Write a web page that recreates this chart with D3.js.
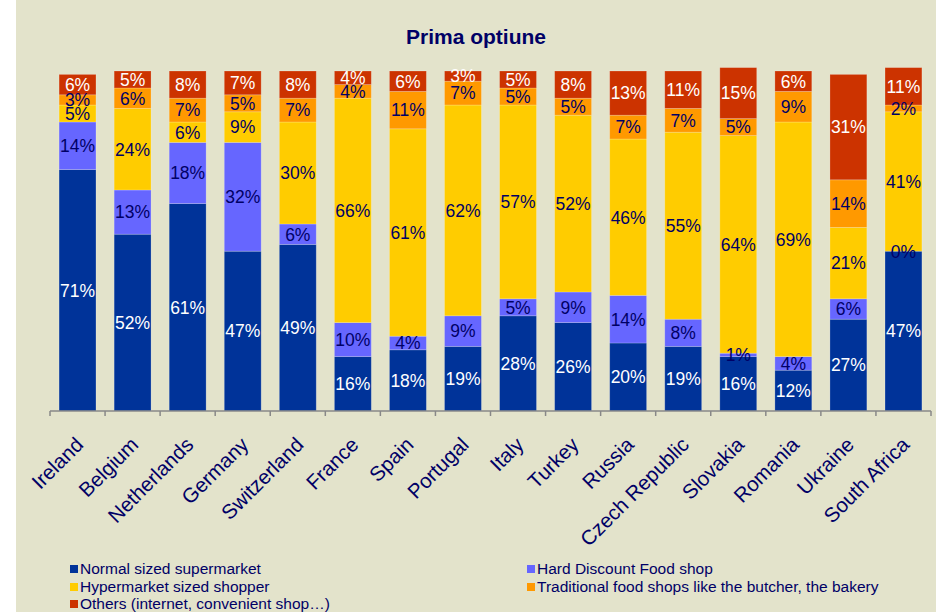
<!DOCTYPE html>
<html>
<head>
<meta charset="utf-8">
<script src="https://cdn.jsdelivr.net/npm/d3@7"></script>
<style>
  body { margin: 0; background: #fff; }
  svg { display: block; font-family: "Liberation Sans", Arial, sans-serif; }
</style>
</head>
<body>
<div class="container"></div>
<script>
// data (percent)
const countries = ["Ireland", "Belgium", "Netherlands", "Germany", "Switzerland", "France", "Spain",
  "Portugal", "Italy", "Turkey", "Russia", "Czech Republic", "Slovakia", "Romania", "Ukraine", "South Africa"];
const seriesNames = ["Normal sized supermarket", "Hard Discount Food shop", "Hypermarket sized shopper",
  "Traditional food shops like the butcher, the bakery", "Others (internet, convenient shop…)"];
const normalSuper = [71, 52, 61, 47, 49, 16, 18, 19, 28, 26, 20, 19, 16, 12, 27, 47];
const hardDiscount = [14, 13, 18, 32, 6, 10, 4, 9, 5, 9, 14, 8, 1, 4, 6, 0];
const hypermarket = [5, 24, 6, 9, 30, 66, 61, 62, 57, 52, 46, 55, 64, 69, 21, 41];
const traditional = [3, 6, 7, 5, 7, 4, 11, 7, 5, 5, 7, 7, 5, 9, 14, 2];
const others = [6, 5, 8, 7, 8, 4, 6, 3, 5, 8, 13, 11, 15, 6, 31, 11];

const seriesValues = [normalSuper, hardDiscount, hypermarket, traditional, others];
const colors = ["#003399", "#6666ff", "#ffcc00", "#ff9900", "#cc3300"];
const labelColors = ["#ffffff", "#000066", "#000066", "#000066", "#ffffff"];

const width = 936, height = 612;
const navy = "#000066";

const svg = d3.select(".container").append("svg")
  .attr("width", width)
  .attr("height", height);

// beige chart area
svg.append("rect")
  .attr("x", 16).attr("y", 0)
  .attr("width", width - 16).attr("height", height)
  .attr("fill", "#e3e3cb");

svg.append("text")
  .attr("x", 476).attr("y", 44)
  .attr("text-anchor", "middle")
  .attr("font-size", 21)
  .attr("font-weight", "bold")
  .attr("fill", navy)
  .text("Prima optiune");

const x = d3.scaleBand()
  .domain(countries)
  .range([50, 931])
  .paddingInner(0.33)
  .paddingOuter(0.165);

const y = d3.scaleLinear().domain([0, 100]).range([411, 71]);

// stack table built from the series arrays
const table = countries.map((c, i) => {
  const row = { country: c };
  seriesNames.forEach((s, j) => row[s] = seriesValues[j][i]);
  return row;
});
const stacked = d3.stack().keys(seriesNames)(table);

svg.append("g")
  .selectAll("g")
  .data(stacked)
  .join("g")
  .attr("fill", (d, i) => colors[i])
  .selectAll("rect")
  .data(d => d)
  .join("rect")
  .attr("x", d => x(d.data.country))
  .attr("width", x.bandwidth())
  .attr("y", d => y(d[1]))
  .attr("height", d => y(d[0]) - y(d[1]))
  .attr("stroke", "#ffffff")
  .attr("stroke-opacity", 0.25)
  .attr("stroke-width", 0.8);

// data labels on top of every bar segment
svg.append("g")
  .selectAll("g")
  .data(stacked)
  .join("g")
  .attr("fill", (d, i) => labelColors[i])
  .selectAll("text")
  .data(d => d)
  .join("text")
  .attr("x", d => x(d.data.country) + x.bandwidth() / 2)
  .attr("y", d => (y(d[0]) + y(d[1])) / 2)
  .attr("dy", "0.36em")
  .attr("text-anchor", "middle")
  .attr("font-size", 17.5)
  .text(d => (d[1] - d[0]) + "%");

// category axis
const axis = svg.append("g").attr("transform", "translate(0,411)");
axis.append("line")
  .attr("x1", 50).attr("x2", 931)
  .attr("stroke", "#888888").attr("stroke-width", 1.5);
axis.selectAll(".tick")
  .data(countries.concat(["end"]))
  .join("line")
  .attr("x1", (d, i) => 50 + i * x.step())
  .attr("x2", (d, i) => 50 + i * x.step())
  .attr("y1", 0).attr("y2", 5)
  .attr("stroke", "#888888").attr("stroke-width", 1.5);

svg.append("g")
  .selectAll("text")
  .data(countries)
  .join("text")
  .attr("transform", d => `translate(${x(d) + x.bandwidth() / 2 + 7},446) rotate(-45)`)
  .attr("text-anchor", "end")
  .attr("font-size", 20.5)
  .attr("fill", navy)
  .text(d => d);

// legend
const legendPos = [[70, 569], [527, 569], [70, 587], [527, 587], [70, 604]];
const legend = svg.append("g")
  .selectAll("g")
  .data(seriesNames)
  .join("g")
  .attr("transform", (d, i) => `translate(${legendPos[i][0]},${legendPos[i][1]})`);
legend.append("rect")
  .attr("x", 0).attr("y", -4)
  .attr("width", 8).attr("height", 8)
  .attr("fill", (d, i) => colors[i]);
legend.append("text")
  .attr("x", 10).attr("dy", "0.35em")
  .attr("font-size", 15.5)
  .attr("fill", navy)
  .text(d => d);
</script>
</body>
</html>
